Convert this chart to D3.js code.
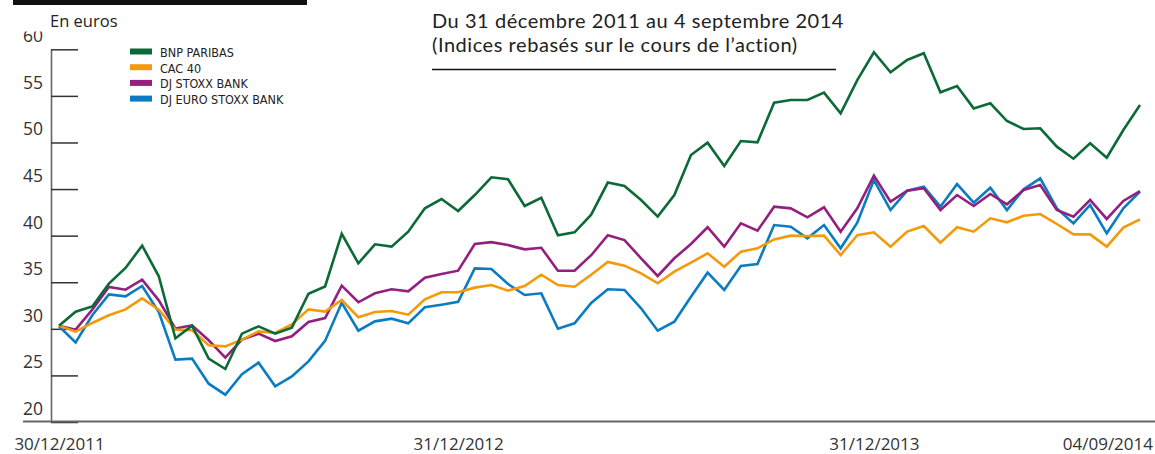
<!DOCTYPE html>
<html>
<head>
<meta charset="utf-8">
<script src="https://cdn.jsdelivr.net/npm/d3@7"></script>
<style>
  body { margin: 0; background: #fff; }
  svg { display: block; }
</style>
</head>
<body>
<div class="customChart"></div>
<script>
// half-monthly points, 30/12/2011 -> 04/09/2014
const bnp = [30.34, 31.84, 32.4, 34.85, 36.53, 38.93, 35.64, 28.98, 30.34, 26.8,
  25.69, 29.48, 30.27, 29.48, 30.13, 33.77, 34.55, 40.2, 37.03, 39.07,
  38.82, 40.43, 42.93, 43.93, 42.65, 44.36, 46.26, 46.05, 43.18, 44.07,
  40.04, 40.36, 42.25, 45.7, 45.33, 43.83, 42.04, 44.36, 48.66, 49.98,
  47.48, 50.16, 50.02, 54.27, 54.56, 54.56, 55.35, 53.13, 56.7, 59.68,
  57.53, 58.85, 59.57, 55.39, 56.06, 53.66, 54.2, 52.3, 51.45, 51.52,
  49.55, 48.26, 49.91, 48.37, 51.34, 54.02];

const cac40 = [30.34, 29.7, 30.63, 31.45, 32.09, 33.27, 32.06, 29.91, 29.84, 28.23,
  28.12, 28.84, 29.73, 29.55, 30.48, 32.09, 31.85, 33.09, 31.24, 31.81,
  31.92, 31.52, 33.17, 33.92, 33.92, 34.42, 34.7, 34.09, 34.6, 35.81,
  34.7, 34.52, 35.8, 37.17, 36.78, 35.96, 34.89, 36.13, 37.1, 38.1,
  36.67, 38.28, 38.64, 39.6, 40, 39.96, 40, 37.92, 40.05, 40.36,
  38.82, 40.43, 41.04, 39.24, 40.9, 40.43, 41.86, 41.43, 42.14, 42.32,
  41.25, 40.14, 40.14, 38.82, 40.86, 41.75];

const stoxxBank = [30.34, 29.91, 32.06, 34.49, 34.2, 35.28, 33.06, 30.02, 30.38, 28.77,
  26.91, 28.84, 29.48, 28.69, 29.2, 30.73, 31.15, 34.63, 32.85, 33.81,
  34.24, 34.03, 35.49, 35.88, 36.24, 39.1, 39.3, 38.99, 38.53, 38.7,
  36.24, 36.24, 37.9, 40.04, 39.53, 37.57, 35.67, 37.57, 39.1, 40.9,
  38.82, 41.32, 40.53, 43.11, 42.93, 41.97, 43.04, 40.43, 42.93, 46.44,
  43.65, 44.83, 45.08, 42.75, 44.36, 43.18, 44.47, 43.36, 44.9, 45.44,
  42.75, 42.04, 43.83, 41.79, 43.72, 44.79];

const euroStoxxBank = [30.27, 28.55, 31.45, 33.7, 33.49, 34.6, 31.81, 26.69, 26.8, 24.11,
  22.93, 25.12, 26.37, 23.83, 24.9, 26.51, 28.7, 32.8, 29.8, 30.8,
  31.09, 30.59, 32.31, 32.59, 32.91, 36.49, 36.42, 34.81, 33.63, 33.81,
  30.01, 30.59, 32.77, 34.24, 34.17, 32.2, 29.8, 30.77, 33.45, 36.03,
  34.17, 36.74, 36.96, 41.14, 40.96, 39.71, 41.14, 38.64, 41.39, 45.97,
  42.75, 44.83, 45.26, 43.11, 45.54, 43.54, 45.15, 42.75, 44.97, 46.15,
  42.93, 41.32, 43.29, 40.25, 42.93, 44.72];

const seriesNames = ["BNP PARIBAS", "CAC 40", "DJ STOXX BANK", "DJ EURO STOXX BANK"];
const seriesColors = ["#0b6a36", "#f39a0b", "#93207f", "#0b7cc1"];

const yTicks = [20, 25, 30, 35, 40, 45, 50, 55, 60];
const xTickIndex = [0, 24, 49, 65];
const xTickLabels = ["30/12/2011", "31/12/2012", "31/12/2013", "04/09/2014"];

const titleLines = ["Du 31 décembre 2011 au 4 septembre 2014", "(Indices rebasés sur le cours de l’action)"];

const W = 1155, H = 454;
const font = "'Open Sans', 'DejaVu Sans', sans-serif";
const titleFont = "Lato, 'Open Sans', sans-serif";
const narrow = "'Liberation Sans Narrow', 'DejaVu Sans Condensed', sans-serif";

const svg = d3.select('.customChart')
  .append('svg')
  .attr('width', W)
  .attr('height', H);

const xScale = d3.scaleLinear().domain([0, bnp.length - 1]).range([59, 1140]);
const yScale = d3.scaleLinear().domain([20, 60]).range([422, 49.3]);

// top black bar
svg.append("rect").attr("x", 13).attr("y", 0).attr("width", 294).attr("height", 5).attr("fill", "#111");

// y axis (ticks point inward, labels sit above the tick)
const yAxis = d3.axisLeft(yScale)
  .tickValues(yTicks)
  .tickSize(-27)
  .tickSizeOuter(0)
  .tickPadding(8);

const leftAxis = svg.append("g")
  .attr("class", "axis y-axis")
  .attr("transform", "translate(51,0)")
  .call(yAxis);

leftAxis.select(".domain").attr("stroke", "#666").attr("stroke-width", 1.6);
leftAxis.selectAll(".tick line").attr("stroke", "#333").attr("stroke-width", 1.5);
leftAxis.selectAll(".tick text")
  .attr("dy", -7.5)
  .attr("fill", "#333")
  .attr("font-family", font)
  .attr("font-size", 17.5);

// the top label is partly hidden under the unit label in the original
svg.append("clipPath").attr("id", "yclip60")
  .append("rect").attr("x", -60).attr("y", 31 - yScale(60)).attr("width", 100).attr("height", 40);
leftAxis.selectAll(".tick").filter(d => d === 60).select("text")
  .attr("clip-path", "url(#yclip60)");

// bottom axis line
svg.append("line")
  .attr("x1", 23).attr("x2", W)
  .attr("y1", 421.5).attr("y2", 421.5)
  .attr("stroke", "#666").attr("stroke-width", 2);

const xAxis = d3.axisBottom(xScale)
  .tickValues(xTickIndex)
  .tickFormat((d, i) => xTickLabels[i])
  .tickSize(0)
  .tickPadding(0);

const bottomAxis = svg.append("g")
  .attr("class", "axis x-axis")
  .attr("transform", "translate(0,422)")
  .call(xAxis);
bottomAxis.select(".domain").remove();
bottomAxis.selectAll(".tick text")
  .attr("y", 27.5)
  .attr("dy", 0)
  .attr("fill", "#333")
  .attr("font-family", font)
  .attr("font-size", 17)
  .each(function () {
    // keep the last label inside the page
    const w = this.getComputedTextLength();
    const tx = +d3.select(this.parentNode).attr("transform").match(/translate\(([-\d.]+)/)[1];
    const over = tx + w / 2 - (W - 2);
    if (over > 0) d3.select(this).attr("x", -over);
  });

// lines
const line = d3.line()
  .x((d, i) => xScale(i))
  .y(d => yScale(d));

const allSeries = [bnp, cac40, stoxxBank, euroStoxxBank];
const drawOrder = [3, 2, 1, 0];

svg.append("g")
  .selectAll("path")
  .data(drawOrder)
  .join("path")
  .attr("fill", "none")
  .attr("stroke", k => seriesColors[k])
  .attr("stroke-width", 2.6)
  .attr("stroke-linejoin", "miter")
  .attr("d", k => line(allSeries[k]));

// unit label
svg.append("text")
  .attr("x", 50).attr("y", 26.5)
  .attr("font-family", font)
  .attr("font-size", 16.5)
  .attr("fill", "#222")
  .text("En euros");

// legend
const legend = svg.append("g")
  .selectAll("g")
  .data(seriesNames)
  .join("g")
  .attr("transform", (d, i) => `translate(130, ${57 + i * 15.7})`);

legend.append("rect")
  .attr("x", 0).attr("y", -8.5)
  .attr("width", 22).attr("height", 6)
  .attr("fill", (d, i) => seriesColors[i]);

legend.append("text")
  .attr("x", 30).attr("y", 0)
  .attr("font-family", narrow)
  .attr("font-size", 12.5)
  .attr("fill", "#222")
  .text(d => d);

// title
svg.append("g")
  .selectAll("text")
  .data(titleLines)
  .join("text")
  .attr("x", 432)
  .attr("y", (d, i) => 28 + i * 24)
  .attr("font-family", titleFont)
  .attr("font-size", 20)
  .attr("letter-spacing", 0.55)
  .attr("fill", "#222")
  .text(d => d);

svg.append("line")
  .attr("x1", 432).attr("x2", 836)
  .attr("y1", 69.5).attr("y2", 69.5)
  .attr("stroke", "#111").attr("stroke-width", 1.3);
</script>
</body>
</html>
